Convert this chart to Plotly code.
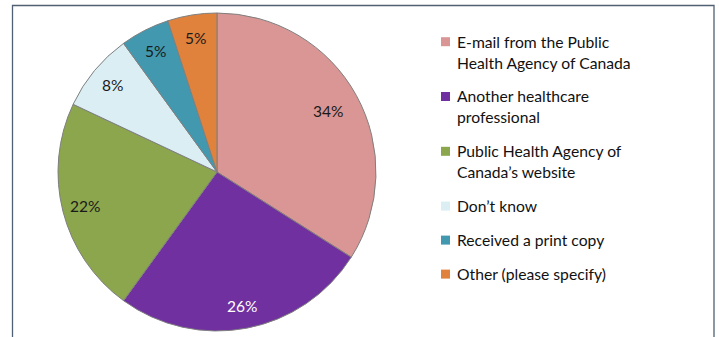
import math
import plotly.graph_objects as go

categories = [
    "E-mail from the Public<br>Health Agency of Canada",
    "Another healthcare<br>professional",
    "Public Health Agency of<br>Canada’s website",
    "Don’t know",
    "Received a print copy",
    "Other (please specify)",
]
values = [34, 26, 22, 8, 5, 5]
colors = ["#D99694", "#7030A0", "#8BA64C", "#DBEEF4", "#4198AF", "#E0823C"]
label_colors = ["#1a1a1a", "#ffffff", "#1a1a1a", "#1a1a1a", "#1a1a1a", "#1a1a1a"]

W, H = 719, 337
CX, CY, R = 217, 172, 159
FONT = "Lato"

fig = go.Figure()
fig.add_trace(go.Pie(
    labels=[c.replace("<br>", " ") for c in categories],
    values=values,
    sort=False,
    direction="clockwise",
    rotation=0,
    marker=dict(colors=colors, line=dict(color="#7f7f7f", width=1)),
    textinfo="none",
    hoverinfo="label+percent",
    showlegend=False,
    domain=dict(x=[(CX - R) / W, (CX + R) / W], y=[(H - CY - R) / H, (H - CY + R) / H]),
))

annotations = []
shapes = []

# percentage labels placed at the slice mid-angles
total = sum(values)
cum = 0
for v, tc in zip(values, label_colors):
    frac = v / total
    mid = (cum + v / 2) / total * 2 * math.pi
    cum += v
    rr = R * (0.80 if frac > 0.3 else 0.855)
    px = CX + rr * math.sin(mid)
    py = CY - rr * math.cos(mid)
    annotations.append(dict(
        x=px / W, y=(H - py) / H, xref="paper", yref="paper",
        text=f"{round(frac * 100)}%", showarrow=False,
        font=dict(family=FONT, size=15.5, color=tc),
        xanchor="center", yanchor="middle",
    ))

# custom legend
y = 41.7
for cat, col in zip(categories, colors):
    lines = cat.split("<br>")
    shapes.append(dict(
        type="rect", xref="paper", yref="paper",
        x0=441 / W, x1=450 / W, y0=(H - (y + 4.5)) / H, y1=(H - (y - 4.5)) / H,
        fillcolor=col, line=dict(width=0),
    ))
    for i, ln in enumerate(lines):
        annotations.append(dict(
            x=454.5 / W, y=(H - y) / H, xref="paper", yref="paper",
            text=ln, showarrow=False, xanchor="left", yanchor="middle",
            font=dict(family=FONT, size=15.7, color="#111111"),
        ))
        if i < len(lines) - 1:
            y += 20.8
    y += 34

# outer frame
shapes.append(dict(
    type="rect", xref="paper", yref="paper",
    x0=12.5 / W, x1=714 / W, y0=-0.2, y1=(H - 5.5) / H,
    line=dict(color="#4F6172", width=1.3), fillcolor="rgba(0,0,0,0)",
))

fig.update_layout(
    width=W, height=H,
    margin=dict(l=0, r=0, t=0, b=0),
    paper_bgcolor="white", plot_bgcolor="white",
    annotations=annotations, shapes=shapes,
    font=dict(family=FONT),
)

fig.write_html("out.html")
